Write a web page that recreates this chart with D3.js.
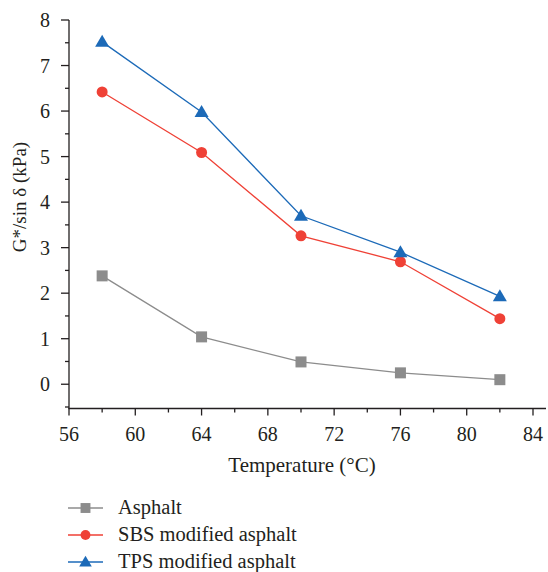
<!DOCTYPE html>
<html>
<head>
<meta charset="utf-8">
<script src="https://cdn.jsdelivr.net/npm/d3@7"></script>
<style>
  body { margin: 0; background: #fff; }
  text { font-family: "Liberation Serif", "DejaVu Serif", serif; fill: #231f20; }
</style>
</head>
<body>
<div id="chart"></div>
<script>
// data
const temps = [58, 64, 70, 76, 82];
const asphalt = [2.38, 1.04, 0.49, 0.25, 0.10];
const sbs = [6.42, 5.09, 3.26, 2.69, 1.44];
const tps = [7.52, 5.98, 3.70, 2.90, 1.93];
const seriesNames = ['Asphalt', 'SBS modified asphalt', 'TPS modified asphalt'];
const xTicks = [56, 60, 64, 68, 72, 76, 80, 84];
const yTicks = [0, 1, 2, 3, 4, 5, 6, 7, 8];

const W = 548, H = 572;
const svg = d3.select('#chart').append('svg')
  .attr('width', W).attr('height', H);

const x = d3.scaleLinear().domain([56, 84]).range([69, 533]);
const y = d3.scaleLinear().domain([-0.5, 8]).range([407, 20]);

const axisColor = '#231f20';

// x axis
const xAxisG = svg.append('g').attr('transform', 'translate(0,408.5)');
xAxisG.append('line')
  .attr('x1', 68.5).attr('x2', 546).attr('stroke', axisColor).attr('stroke-width', 1.3);
xAxisG.selectAll('.minor').data(d3.range(58, 84, 4)).enter().append('line')
  .attr('x1', d => x(d)).attr('x2', d => x(d)).attr('y1', 0).attr('y2', 4)
  .attr('stroke', axisColor).attr('stroke-width', 1.3);
xAxisG.selectAll('.major').data(xTicks).enter().append('line')
  .attr('x1', d => x(d)).attr('x2', d => x(d)).attr('y1', 0).attr('y2', 7)
  .attr('stroke', axisColor).attr('stroke-width', 1.3);
xAxisG.selectAll('text').data(xTicks).enter().append('text')
  .attr('x', d => x(d)).attr('y', 32)
  .attr('text-anchor', 'middle').attr('font-size', 20)
  .text(d => d);

// y axis
const yAxisG = svg.append('g').attr('transform', 'translate(69,0)');
yAxisG.append('line')
  .attr('y1', 20).attr('y2', 409).attr('stroke', axisColor).attr('stroke-width', 1.3);
yAxisG.selectAll('.minor').data(d3.range(-0.5, 8, 1)).enter().append('line')
  .attr('y1', d => y(d)).attr('y2', d => y(d)).attr('x1', 0).attr('x2', -4)
  .attr('stroke', axisColor).attr('stroke-width', 1.3);
yAxisG.selectAll('.major').data(yTicks).enter().append('line')
  .attr('y1', d => y(d)).attr('y2', d => y(d)).attr('x1', 0).attr('x2', -8)
  .attr('stroke', axisColor).attr('stroke-width', 1.3);
yAxisG.selectAll('text').data(yTicks).enter().append('text')
  .attr('x', -19).attr('y', d => y(d) + 7)
  .attr('text-anchor', 'end').attr('font-size', 20)
  .text(d => d);

// axis titles
svg.append('text')
  .attr('x', 302).attr('y', 472)
  .attr('text-anchor', 'middle').attr('font-size', 21)
  .text('Temperature (°C)');
svg.append('text')
  .attr('transform', 'translate(26,197) rotate(-90)')
  .attr('text-anchor', 'middle').attr('font-size', 19)
  .text('G*/sin δ (kPa)');

// series
const series = [
  { name: seriesNames[0], values: asphalt, color: '#8c8c8c', shape: 'square' },
  { name: seriesNames[1], values: sbs, color: '#ef4136', shape: 'circle' },
  { name: seriesNames[2], values: tps, color: '#1c6ab8', shape: 'triangle' }
];

const line = d3.line().x(d => x(d[0])).y(d => y(d[1]));

const marker = (sel, s, k) => {
  if (s.shape === 'square') {
    sel.append('rect').attr('x', -5.5 * k).attr('y', -5.5 * k)
      .attr('width', 11 * k).attr('height', 11 * k).attr('fill', s.color);
  } else if (s.shape === 'circle') {
    sel.append('circle').attr('r', 5.5 * k).attr('fill', s.color);
  } else {
    sel.append('path').attr('d', d3.line()([[0, -7 * k], [7 * k, 5 * k], [-7 * k, 5 * k]]) + 'Z')
      .attr('fill', s.color);
  }
};

series.forEach(s => {
  const pts = temps.map((t, i) => [t, s.values[i]]);
  svg.append('path').datum(pts)
    .attr('d', line).attr('fill', 'none')
    .attr('stroke', s.color).attr('stroke-width', 1.3);
  svg.selectAll(null).data(pts).enter().append('g')
    .attr('transform', d => `translate(${x(d[0])},${y(d[1])})`)
    .each(function () { marker(d3.select(this), s, 1); });
});

// legend
const legend = svg.append('g');
series.forEach((s, i) => {
  const ly = 508 + i * 27;
  const g = legend.append('g').attr('transform', `translate(0,${ly})`);
  g.append('line').attr('x1', 68).attr('x2', 103)
    .attr('stroke', s.color).attr('stroke-width', 1.3);
  const m = g.append('g').attr('transform', 'translate(85.5,0)');
  marker(m, s, 0.9);
  g.append('text').attr('x', 118).attr('y', 6)
    .attr('font-size', 20.5).text(s.name);
});
</script>
</body>
</html>
